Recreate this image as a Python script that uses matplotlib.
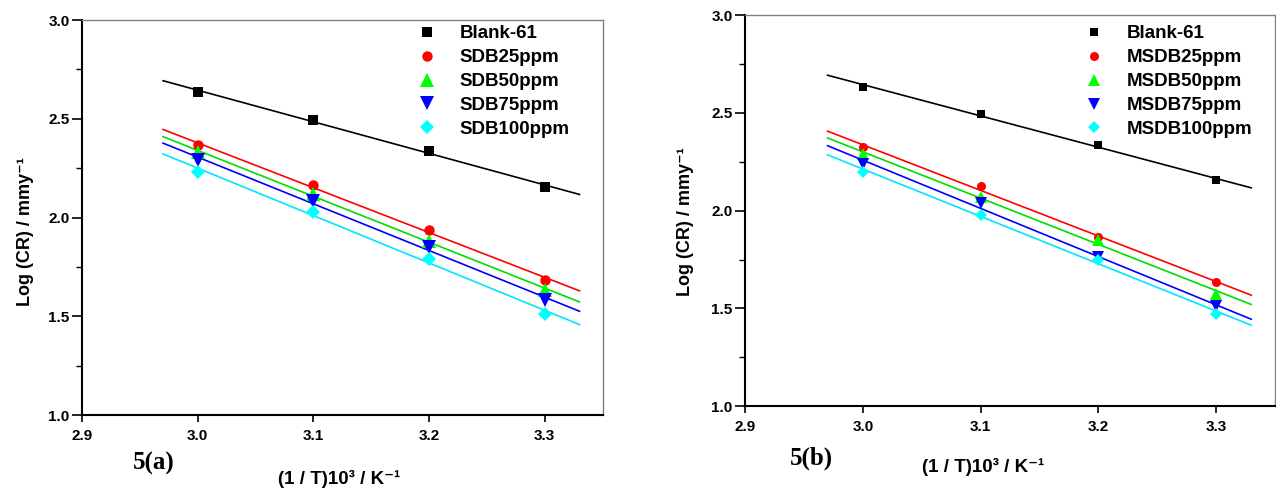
import matplotlib
matplotlib.use("Agg")
import matplotlib.pyplot as plt
import numpy as np
from matplotlib.ticker import MultipleLocator

plt.rcParams["font.family"] = ["Liberation Sans", "DejaVu Sans"]
plt.rcParams["font.weight"] = "bold"

# inverse temperature (1/T * 10^3, K^-1)
inv_t = [3.0, 3.1, 3.2, 3.3]

# panel (a): Log(CR) values
labels_a = ["Blank-61", "SDB25ppm", "SDB50ppm", "SDB75ppm", "SDB100ppm"]
blank_a = [2.635, 2.495, 2.335, 2.155]
sdb25 = [2.365, 2.165, 1.935, 1.685]
sdb50 = [2.330, 2.120, 1.880, 1.635]
sdb75 = [2.290, 2.085, 1.850, 1.580]
sdb100 = [2.230, 2.030, 1.790, 1.510]

# panel (b): Log(CR) values
labels_b = ["Blank-61", "MSDB25ppm", "MSDB50ppm", "MSDB75ppm", "MSDB100ppm"]
blank_b = [2.635, 2.495, 2.335, 2.155]
msdb25 = [2.325, 2.125, 1.865, 1.635]
msdb50 = [2.290, 2.070, 1.850, 1.575]
msdb75 = [2.240, 2.040, 1.765, 1.510]
msdb100 = [2.200, 1.980, 1.750, 1.470]

markers = ["s", "o", "^", "v", "D"]
marker_colors = ["#000000", "#ff0000", "#00ff00", "#0000ff", "#00ffff"]
line_colors = ["#000000", "#ff0000", "#00dd00", "#0000ff", "#00e5ff"]
sizes_a = [6.5, 7.5, 9.5, 9.5, 7]
sizes_b = [5.5, 6.5, 9, 9, 6.5]
fit_range = np.array([2.97, 3.33])


def draw_panel(ax, series, labels, sizes, legend_anchor):
    x = np.array(inv_t)
    for ys, lab, mk, mc, lc, ms in zip(series, labels, markers, marker_colors,
                                       line_colors, sizes):
        slope, icpt = np.polyfit(x, ys, 1)
        ax.plot(fit_range, slope * fit_range + icpt, color=lc, lw=1.2, zorder=2)
        ax.plot(x, ys, linestyle="none", marker=mk, color=mc, ms=ms,
                markeredgewidth=0, label=lab, zorder=3)

    ax.set_xlim(2.9, 3.35)
    ax.set_ylim(1.0, 3.0)
    ax.set_xticks([2.9, 3.0, 3.1, 3.2, 3.3])
    ax.yaxis.set_major_locator(MultipleLocator(0.5))
    ax.yaxis.set_minor_locator(MultipleLocator(0.25))
    ax.xaxis.set_major_formatter(plt.FormatStrFormatter("%.1f"))
    ax.yaxis.set_major_formatter(plt.FormatStrFormatter("%.1f"))
    ax.tick_params(axis="x", which="major", direction="out", length=5,
                   width=1.2, labelsize=11, pad=5)
    ax.tick_params(axis="y", which="major", direction="out", length=7,
                   width=1.2, labelsize=11, pad=2)
    ax.tick_params(axis="y", which="minor", direction="out", length=4, width=1)
    for lbl in ax.get_xticklabels() + ax.get_yticklabels():
        lbl.set_fontweight("bold")

    for side in ("left", "bottom"):
        ax.spines[side].set_linewidth(1.5)
        ax.spines[side].set_color("black")
    for side in ("top", "right"):
        ax.spines[side].set_linewidth(1.0)
        ax.spines[side].set_color("#808080")

    ax.legend(loc="upper left", bbox_to_anchor=legend_anchor, frameon=False,
              prop={"weight": "bold", "size": 13.5}, handlelength=1.2,
              handletextpad=1.15, labelspacing=0.36, borderpad=0,
              borderaxespad=0, numpoints=1)


fig = plt.figure(figsize=(12.76, 4.9), dpi=100)
ax_a = fig.add_axes([0.0643, 0.153, 0.408, 0.806])
ax_b = fig.add_axes([0.584, 0.171, 0.415, 0.798])

draw_panel(ax_a, [blank_a, sdb25, sdb50, sdb75, sdb100], labels_a, sizes_a,
           (0.641, 0.987))
draw_panel(ax_b, [blank_b, msdb25, msdb50, msdb75, msdb100], labels_b, sizes_b,
           (0.637, 0.974))

W, H = 1276, 490
ylab = "Log (CR) / mmy\u207b\u00b9"
xlab = "(1 / T)10\u00b3 / K\u207b\u00b9"
fig.text(25 / W, 1 - 232 / H, ylab, rotation=90, ha="center", va="center",
         fontsize=13, fontweight="bold")
fig.text(686 / W, 1 - 222 / H, ylab, rotation=90, ha="center", va="center",
         fontsize=13, fontweight="bold")
fig.text(339 / W, 1 - 479 / H, xlab, ha="center", va="center",
         fontsize=13.5, fontweight="bold")
fig.text(983 / W, 1 - 467 / H, xlab, ha="center", va="center",
         fontsize=13.5, fontweight="bold")
fig.text(154 / W, 1 - 463 / H, "5(a)", ha="center", va="center",
         fontsize=18, fontweight="bold", family="Liberation Serif")
fig.text(811 / W, 1 - 458 / H, "5(b)", ha="center", va="center",
         fontsize=18, fontweight="bold", family="Liberation Serif")

fig.savefig("out.png", dpi=100)
